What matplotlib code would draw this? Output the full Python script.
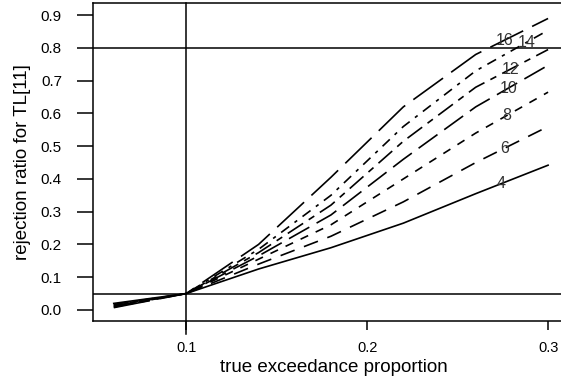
import numpy as np
import matplotlib
matplotlib.use("Agg")
import matplotlib.pyplot as plt

plt.rcParams['font.family'] = ['Liberation Sans', 'DejaVu Sans']

# true exceedance proportion
p_true = [0.06, 0.10, 0.14, 0.18, 0.22, 0.26, 0.30]

# rejection ratio curves, one per sample size
n_labels = ["4", "6", "8", "10", "12", "14", "16"]
rej_4 = [0.020, 0.05, 0.125, 0.190, 0.265, 0.355, 0.442]
rej_6 = [0.017, 0.05, 0.140, 0.225, 0.330, 0.450, 0.560]
rej_8 = [0.015, 0.05, 0.155, 0.260, 0.400, 0.540, 0.665]
rej_10 = [0.013, 0.05, 0.165, 0.290, 0.460, 0.620, 0.747]
rej_12 = [0.011, 0.05, 0.175, 0.320, 0.515, 0.680, 0.795]
rej_14 = [0.009, 0.05, 0.185, 0.350, 0.560, 0.730, 0.854]
rej_16 = [0.007, 0.05, 0.200, 0.405, 0.620, 0.780, 0.890]
curves = [rej_4, rej_6, rej_8, rej_10, rej_12, rej_14, rej_16]

# reference lines
alpha_level = 0.05
power_level = 0.8
p_null = 0.1

# where each curve label sits along x
label_x = [0.274, 0.276, 0.277, 0.278, 0.279, 0.288, 0.276]

dash_styles = [
    "-",
    (0, (9, 6)),
    (0, (5, 5)),
    (0, (14, 5)),
    (0, (11, 4, 4, 4)),
    (0, (6, 4, 2, 4)),
    (0, (22, 6)),
]

fig = plt.figure(figsize=(5.61, 3.85), dpi=100)
ax = fig.add_axes([0.166, 0.166, 0.86, 0.826])

for y, ls, lab, lx in zip(curves, dash_styles, n_labels, label_x):
    ax.plot(p_true, y, color="black", linestyle=ls, linewidth=1.2)
    ly = np.interp(lx, p_true, y)
    ax.text(lx, ly, lab, fontsize=11.5, ha="center", va="center", color="#333333")

ax.axhline(alpha_level, color="black", linewidth=1.1)
ax.axhline(power_level, color="black", linewidth=1.1)
ax.axvline(p_null, color="black", linewidth=1.1, ymin=-0.04, clip_on=False)

ax.set_xlim(0.0486, 0.3152)
ax.set_ylim(-0.034, 0.937)
ax.set_xticks([0.1, 0.2, 0.3])
ax.set_xticklabels(["0.1", "0.2", "0.3"])
ax.set_yticks(np.arange(0, 1.0, 0.1))
ax.set_yticklabels(["%.1f" % v for v in np.arange(0, 1.0, 0.1)])

ax.tick_params(axis="x", direction="out", length=6.5, width=1.1, labelsize=10.5, pad=8)
ax.tick_params(axis="y", direction="out", length=11.5, width=1.1, labelsize=11, pad=11)
for s in ax.spines.values():
    s.set_linewidth(1.1)

ax.set_xlabel("true exceedance proportion", fontsize=13.5, labelpad=3)
ax.set_ylabel("rejection ratio for TL[11]", fontsize=13.5, labelpad=7)

fig.savefig("out.png", dpi=100)
